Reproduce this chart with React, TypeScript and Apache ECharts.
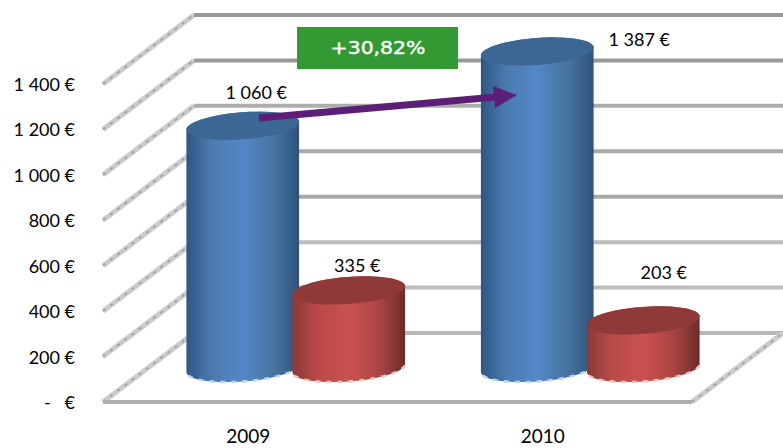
import React, { useEffect, useRef } from "react";
import * as echarts from "echarts";

const categories = ["2009", "2010"];
const blueValues = [1060, 1387];
const redValues = [335, 203];
const yTicks = [0, 200, 400, 600, 800, 1000, 1200, 1400];
const yTickLabels = ["-   €", "200 €", "400 €", "600 €", "800 €", "1 000 €", "1 200 €", "1 400 €"];
const blueLabels = ["1 060 €", "1 387 €"];
const redLabels = ["335 €", "203 €"];
const growthLabel = "+30,82%";

// Pseudo-3D projection (pixels)
const DEPTH_X = 91;
const DEPTH_Y = 69;
const COL_HALF = 53;
const RX = 56.5;
const RY = 13.5;
const TILT = 0.075;
const blueLabelOffsets = [[13.5, -35], [102, -13.5]];
const redLabelOffsets = [[8.5, -26.5], [20.5, -49.5]];
const backLineColors = ["#b8b8b8", "#bcbcbc", "#bcbcbc", "#a8a8a8", "#a8a8a8", "#adadad", "#9a9a9a", "#999999"];

const FONT = "Lato";

function ellipsePoint(cx: number, cy: number, t: number) {
  const ex = RX * Math.cos(t);
  const ey = RY * Math.sin(t);
  return [cx + ex * Math.cos(TILT) + ey * Math.sin(TILT), cy - ex * Math.sin(TILT) + ey * Math.cos(TILT)];
}

function arc(cx: number, cy: number, from: number, to: number) {
  const pts: number[][] = [];
  const n = 48;
  for (let i = 0; i <= n; i++) pts.push(ellipsePoint(cx, cy, from + ((to - from) * i) / n));
  return pts;
}

function cylinderRenderer(
  side: number,
  stops: string[],
  topColor: string,
  fringe: string,
  labels: string[],
  offsets: number[][]
) {
  return (params: any, api: any) => {
    const i = params.dataIndex;
    const base = api.coord([api.value(0), 0]);
    const top = api.coord([api.value(0), api.value(1)]);
    const cx = base[0] + DEPTH_X / 2 + side * COL_HALF;
    const by = base[1] - DEPTH_Y / 2 + 0.5;
    const ty = top[1] - DEPTH_Y / 2 - 1;
    const body = [...arc(cx, by, 0, Math.PI), ...arc(cx, ty, Math.PI, 2 * Math.PI)];
    return {
      type: "group",
      children: [
        {
          type: "polygon",
          shape: { points: body },
          style: {
            fill: new echarts.graphic.LinearGradient(0, 0, 1, 0, [
              { offset: 0, color: stops[0] },
              { offset: 0.22, color: stops[1] },
              { offset: 0.5, color: stops[2] },
              { offset: 0.78, color: stops[3] },
              { offset: 1, color: stops[4] },
            ]),
          },
        },
        {
          type: "polyline",
          shape: { points: arc(cx, by, 0.12, Math.PI - 0.05) },
          style: { fill: "none", stroke: fringe, lineWidth: 2.5, lineDash: [5, 6] },
        },
        {
          type: "polygon",
          shape: { points: arc(cx, ty, 0, 2 * Math.PI) },
          style: { fill: topColor },
        },
        {
          type: "text",
          style: {
            text: labels[i],
            x: cx + offsets[i][0],
            y: ty + 1 + offsets[i][1],
            align: "center",
            verticalAlign: "middle",
            fill: "#000",
            font: `18px ${FONT}`,
          },
        },
      ],
    };
  };
}

function wallRenderer(params: any, api: any) {
  const v = api.value(1);
  const y = api.coord([0, v])[1];
  const x0 = params.coordSys.x;
  const x1 = x0 + params.coordSys.width;
  const diag = [[x0, y], [x0 + DEPTH_X, y - DEPTH_Y]];
  const children: any[] = [
    { type: "polyline", shape: { points: diag }, style: { fill: "none", stroke: "#cbcbcb", lineWidth: 5 } },
    {
      type: "polyline",
      shape: { points: diag },
      style: { fill: "none", stroke: "#9c9c9c", lineWidth: 1.5, lineDash: [3, 6] },
    },
    {
      type: "line",
      shape: { x1: x0 + DEPTH_X, y1: y - DEPTH_Y, x2: x1 + DEPTH_X, y2: y - DEPTH_Y },
      style: { stroke: backLineColors[params.dataIndex], lineWidth: 4 },
    },
  ];
  if (v === 0) {
    const d2 = [[x1, y], [x1 + DEPTH_X, y - DEPTH_Y]];
    children.push(
      { type: "polyline", shape: { points: d2 }, style: { fill: "none", stroke: "#cbcbcb", lineWidth: 5 } },
      { type: "polyline", shape: { points: d2 }, style: { fill: "none", stroke: "#9c9c9c", lineWidth: 1.5, lineDash: [3, 6] } },
      { type: "line", shape: { x1: x0, y1: y, x2: x1, y2: y }, style: { stroke: "#aeaeae", lineWidth: 4 } }
    );
  }
  return { type: "group", children };
}

const BLUE_STOPS = ["#2e5682", "#4a7aae", "#5387c8", "#46739f", "#2f5278"];
const RED_STOPS = ["#8a3837", "#b84a48", "#cb5250", "#a84443", "#6c2b2a"];

export default function App() {
  const ref = useRef<HTMLDivElement>(null);
  useEffect(() => {
    const chart = echarts.init(ref.current!, undefined, { renderer: "svg" });
    chart.setOption({
      animation: false,
      backgroundColor: "#fff",
      grid: { left: 103, right: 91, top: 84, bottom: 46 },
      xAxis: {
        type: "category",
        data: categories,
        axisLine: { show: false },
        axisTick: { show: false },
        axisLabel: { fontFamily: FONT, fontSize: 19, color: "#000", margin: 24, padding: [0, 4, 0, 0] },
      },
      yAxis: {
        type: "value",
        min: 0,
        max: 1400,
        interval: 200,
        axisLine: { show: false },
        axisTick: { show: false },
        splitLine: { show: false },
        axisLabel: {
          fontFamily: FONT,
          fontSize: 18,
          color: "#000",
          margin: 28,
          padding: [2, 0, 0, 0],
          formatter: (v: number) => yTickLabels[yTicks.indexOf(v)],
        },
      },
      series: [
        {
          type: "custom",
          name: "walls",
          z: 1,
          silent: true,
          renderItem: wallRenderer,
          data: yTicks.map((t) => [0, t]),
        },
        {
          type: "custom",
          name: "blue",
          z: 2,
          renderItem: cylinderRenderer(-1, BLUE_STOPS, "#3c6693", "#c3d3e8", blueLabels, blueLabelOffsets),
          data: blueValues.map((v, i) => [i, v]),
        },
        {
          type: "custom",
          name: "red",
          z: 3,
          renderItem: cylinderRenderer(1, RED_STOPS, "#8f3a38", "#e8c4c3", redLabels, redLabelOffsets),
          data: redValues.map((v, i) => [i, v]),
        },
      ],
      graphic: [
        { type: "rect", z: 100, shape: { x: 297, y: 27, width: 161, height: 42 }, style: { fill: "#339933" } },
        {
          type: "text",
          z: 101,
          x: 378,
          y: 48,
          scaleX: 1.2,
          style: {
            text: growthLabel,
            x: 0,
            y: 0,
            align: "center",
            verticalAlign: "middle",
            fill: "#fff",
            stroke: "#fff",
            lineWidth: 0.4,
            font: "17px 'DejaVu Sans'",
          },
        },
        {
          type: "line",
          z: 100,
          shape: { x1: 259, y1: 118, x2: 496, y2: 97 },
          style: { stroke: "#5b1f77", lineWidth: 7 },
        },
        {
          type: "polygon",
          z: 100,
          shape: { points: [[517, 95], [493, 86], [495, 108]] },
          style: { fill: "#5b1f77" },
        },
      ],
    });
    return () => chart.dispose();
  }, []);
  return <div ref={ref} style={{ position: "fixed", left: 0, top: 0, width: 783, height: 448 }} />;
}
